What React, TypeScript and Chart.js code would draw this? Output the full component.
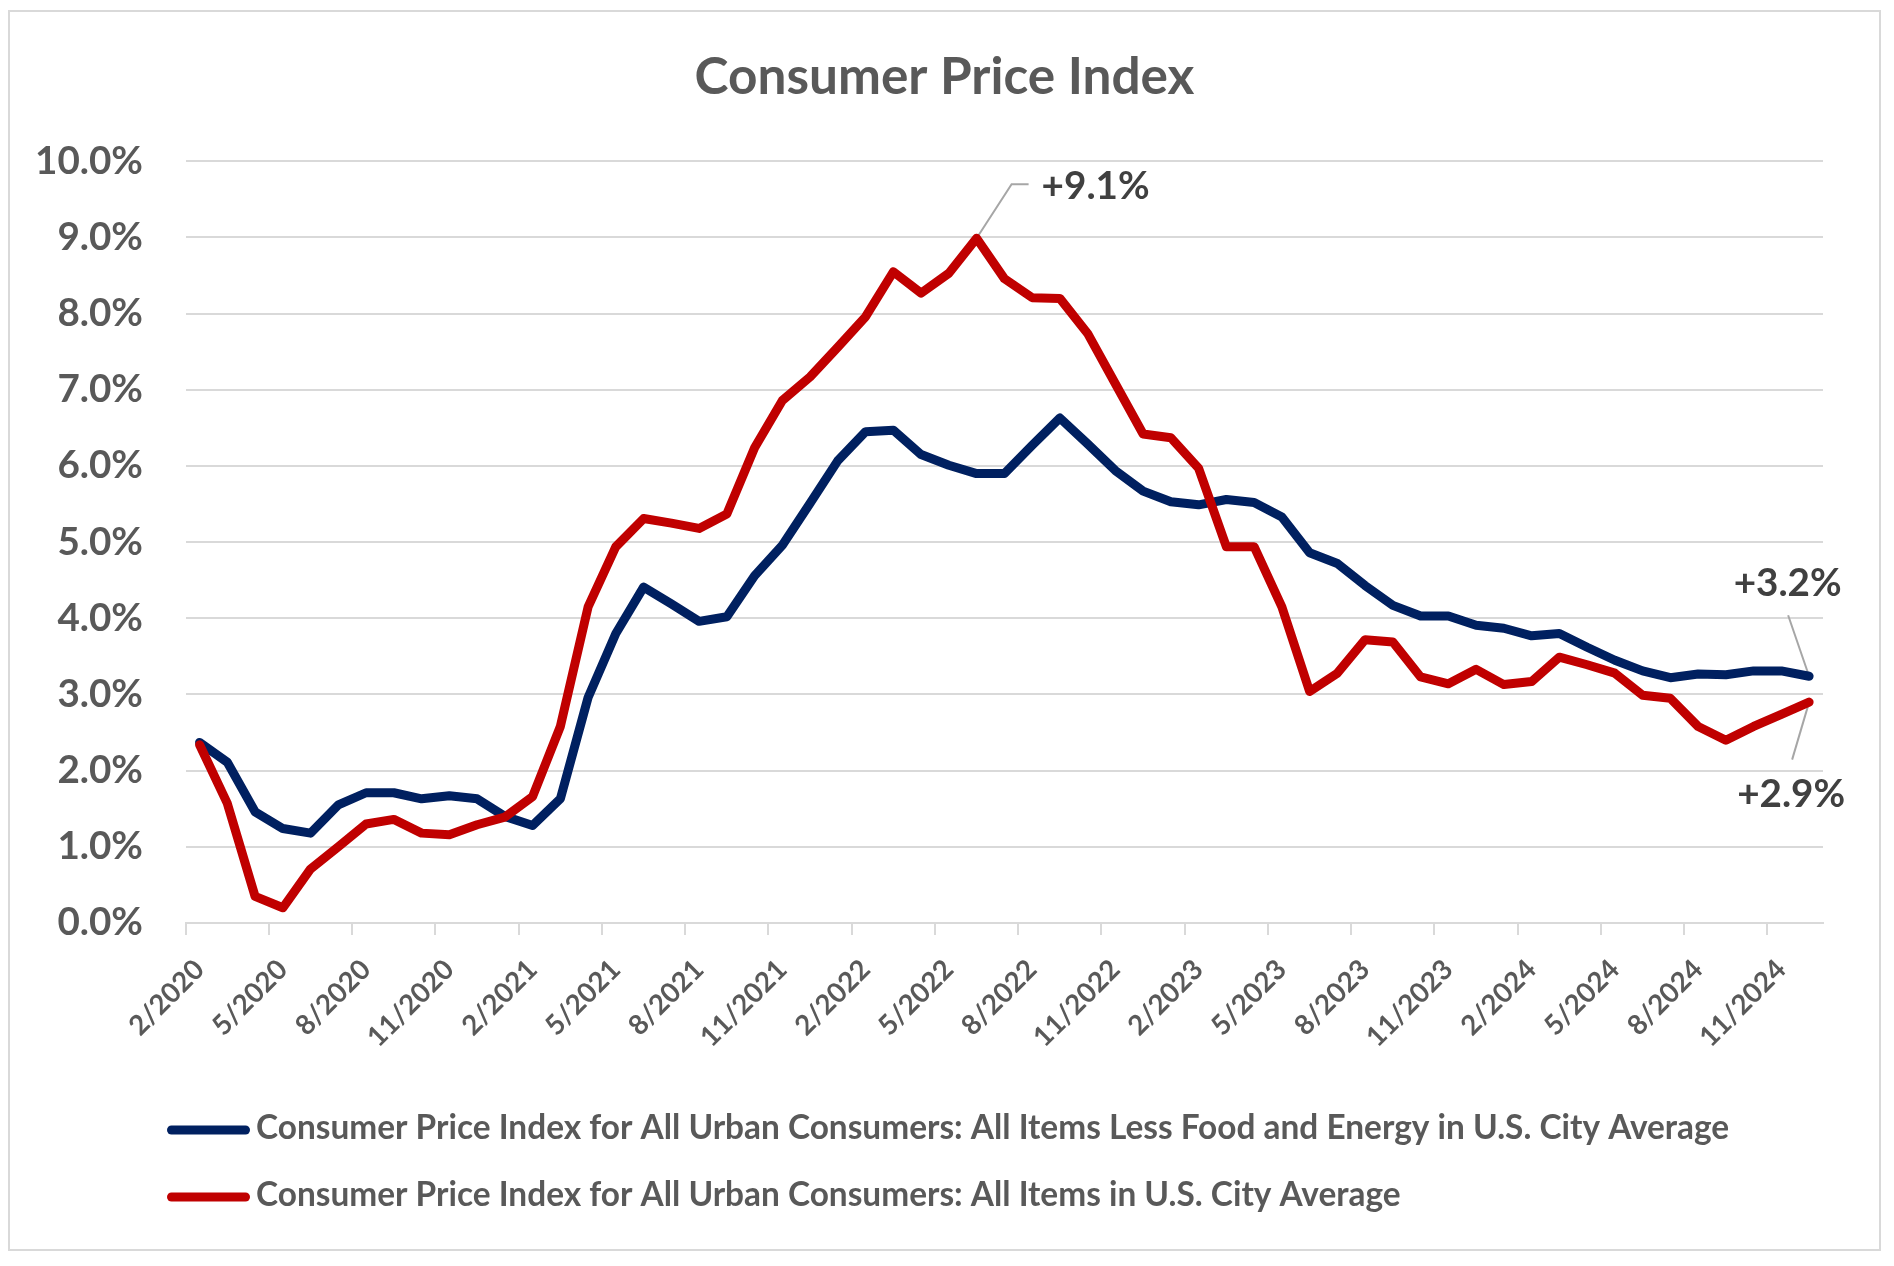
import React, { useEffect, useRef } from 'react';
import { Chart, registerables } from 'chart.js';

Chart.register(...registerables);

const TITLE = 'Consumer Price Index';

const MONTHS = [
  '2/2020', '3/2020', '4/2020', '5/2020', '6/2020', '7/2020', '8/2020', '9/2020', '10/2020', '11/2020', '12/2020',
  '1/2021', '2/2021', '3/2021', '4/2021', '5/2021', '6/2021', '7/2021', '8/2021', '9/2021', '10/2021', '11/2021', '12/2021',
  '1/2022', '2/2022', '3/2022', '4/2022', '5/2022', '6/2022', '7/2022', '8/2022', '9/2022', '10/2022', '11/2022', '12/2022',
  '1/2023', '2/2023', '3/2023', '4/2023', '5/2023', '6/2023', '7/2023', '8/2023', '9/2023', '10/2023', '11/2023', '12/2023',
  '1/2024', '2/2024', '3/2024', '4/2024', '5/2024', '6/2024', '7/2024', '8/2024', '9/2024', '10/2024', '11/2024', '12/2024',
];

// Core CPI (less food and energy), YoY %
const CORE = [
  2.37, 2.11, 1.46, 1.24, 1.18, 1.55, 1.71, 1.71, 1.63, 1.67, 1.63,
  1.40, 1.28, 1.63, 2.96, 3.80, 4.41, 4.19, 3.96, 4.02, 4.56, 4.96, 5.51,
  6.07, 6.45, 6.47, 6.15, 6.01, 5.90, 5.90, 6.27, 6.63, 6.29, 5.94, 5.67,
  5.53, 5.49, 5.56, 5.52, 5.33, 4.86, 4.72, 4.43, 4.17, 4.03, 4.03, 3.91,
  3.87, 3.77, 3.80, 3.62, 3.45, 3.31, 3.22, 3.27, 3.26, 3.31, 3.31, 3.24,
];

// Headline CPI (all items), YoY %
const HEADLINE = [
  2.34, 1.57, 0.35, 0.20, 0.71, 1.00, 1.30, 1.36, 1.18, 1.16, 1.29,
  1.39, 1.66, 2.58, 4.15, 4.94, 5.31, 5.25, 5.18, 5.37, 6.24, 6.86, 7.17,
  7.56, 7.96, 8.55, 8.27, 8.53, 8.99, 8.46, 8.21, 8.20, 7.74, 7.08, 6.42,
  6.37, 5.97, 4.94, 4.94, 4.15, 3.04, 3.28, 3.72, 3.69, 3.23, 3.14, 3.33,
  3.13, 3.17, 3.49, 3.39, 3.28, 2.99, 2.95, 2.58, 2.40, 2.58, 2.74, 2.90,
];

const SERIES_NAMES = [
  'Consumer Price Index for All Urban Consumers: All Items Less Food and Energy in U.S. City Average',
  'Consumer Price Index for All Urban Consumers: All Items in U.S. City Average',
];

const SERIES_COLORS = ['#002060', '#C00000'];

const Y_MIN = 0;
const Y_MAX = 10;
const Y_STEP = 1;
const X_LABEL_EVERY = 3;

const ANNOTATIONS = [
  { series: 1, index: 28, text: '+9.1%' },
  { series: 0, index: 58, text: '+3.2%' },
  { series: 1, index: 58, text: '+2.9%' },
];

// placement of the annotation texts/leaders relative to their point (style only)
const ANNOTATION_LAYOUT = [
  { leader: [[35, -54], [52, -54]], tx: 65, ty: -39, align: 'left' },
  { leader: [[-21, -61]], tx: -21.5, ty: -80, align: 'center' },
  { leader: [[-17, 57.5]], tx: -18, ty: 104.5, align: 'center' },
];

const FONT = 'Lato';
const TEXT = '#595959';
const GRID = '#d9d9d9';
const LINE_WIDTH = 9;

function fitSize(ctx: CanvasRenderingContext2D, text: string, target: number) {
  ctx.font = `bold 100px ${FONT}`;
  return (100 * target) / ctx.measureText(text).width;
}

export default function App() {
  const ref = useRef<HTMLCanvasElement>(null);

  useEffect(() => {
    const canvas = ref.current!;
    const m = document.createElement('canvas').getContext('2d')!;
    const titleSize = fitSize(m, TITLE, 500);
    const yTickSize = fitSize(m, '10.0%', 108);
    const xTickSize = fitSize(m, '2/2020', 93);
    const legendSize = fitSize(m, SERIES_NAMES[0], 1474);
    const annoSize = fitSize(m, '+9.1%', 108);

    const H = 1237;
    const W = 1869;
    const area = { left: 175.7, right: 1813, top: 149.3, bottom: 911 };
    const xAxisHeight = 150;
    const xPad = 30 - 0.4243 * xTickSize;

    const overlay = {
      id: 'overlay',
      beforeDatasetsDraw(chart: any) {
        const ctx = chart.ctx;
        ctx.save();
        ctx.strokeStyle = '#a6a6a6';
        ctx.lineWidth = 2;
        ANNOTATIONS.forEach((a, i) => {
          const pt = chart.getDatasetMeta(a.series).data[a.index];
          const L = ANNOTATION_LAYOUT[i];
          ctx.beginPath();
          ctx.moveTo(pt.x, pt.y);
          L.leader.forEach(([dx, dy]) => ctx.lineTo(pt.x + dx, pt.y + dy));
          ctx.stroke();
        });
        ctx.restore();
      },
      afterDraw(chart: any) {
        const ctx = chart.ctx;
        ctx.save();
        // title
        ctx.fillStyle = TEXT;
        ctx.font = `bold ${titleSize}px ${FONT}`;
        ctx.textAlign = 'center';
        ctx.textBaseline = 'alphabetic';
        ctx.fillText(TITLE, chart.width / 2, 82);
        // annotations
        ctx.fillStyle = '#404040';
        ctx.font = `bold ${annoSize}px ${FONT}`;
        ANNOTATIONS.forEach((a, i) => {
          const pt = chart.getDatasetMeta(a.series).data[a.index];
          const L = ANNOTATION_LAYOUT[i];
          ctx.textAlign = L.align;
          ctx.fillText(a.text, pt.x + L.tx, pt.y + L.ty);
        });
        // legend (one row per series)
        ctx.font = `bold ${legendSize}px ${FONT}`;
        ctx.textAlign = 'left';
        chart.data.datasets.forEach((ds: any, i: number) => {
          const cy = 1118 + i * 67;
          ctx.strokeStyle = ds.borderColor;
          ctx.lineWidth = LINE_WIDTH;
          ctx.lineCap = 'round';
          ctx.beginPath();
          ctx.moveTo(161.5, cy);
          ctx.lineTo(235.5, cy);
          ctx.stroke();
          ctx.fillStyle = TEXT;
          ctx.fillText(ds.label, 246, 1127 + i * 67);
        });
        ctx.restore();
      },
    };

    const tickColor = (c: any) => (c.index % X_LABEL_EVERY === 0 ? GRID : 'rgba(0,0,0,0)');

    const chart = new Chart(canvas, {
      type: 'line',
      data: {
        labels: MONTHS,
        datasets: [
          {
            label: SERIES_NAMES[0],
            data: CORE,
            borderColor: SERIES_COLORS[0],
            backgroundColor: SERIES_COLORS[0],
            borderWidth: LINE_WIDTH,
            pointRadius: 0,
            tension: 0,
            order: 1,
          },
          {
            label: SERIES_NAMES[1],
            data: HEADLINE,
            borderColor: SERIES_COLORS[1],
            backgroundColor: SERIES_COLORS[1],
            borderWidth: LINE_WIDTH,
            pointRadius: 0,
            tension: 0,
            order: 0,
          },
        ],
      },
      options: {
        animation: false,
        responsive: true,
        maintainAspectRatio: false,
        devicePixelRatio: 1,
        elements: {
          line: { borderJoinStyle: 'round', borderCapStyle: 'round' },
        },
        layout: {
          padding: {
            left: 0,
            right: W - area.right,
            top: area.top,
            bottom: H - area.bottom - xAxisHeight,
          },
        },
        plugins: {
          tooltip: { enabled: false },
          title: { display: false },
          legend: { display: false },
        },
        scales: {
          x: {
            type: 'category',
            offset: true,
            grid: {
              offset: true,
              drawOnChartArea: false,
              drawTicks: true,
              tickLength: 12,
              lineWidth: 2,
              color: tickColor,
              tickColor: tickColor,
            },
            border: { display: true, color: GRID, width: 2 },
            ticks: {
              autoSkip: false,
              minRotation: 45,
              maxRotation: 45,
              padding: xPad,
              color: TEXT,
              font: { family: FONT, size: xTickSize, weight: 'bold' },
              callback: (_v: any, i: number) => (i % X_LABEL_EVERY === 0 ? MONTHS[i] : ''),
            },
            afterFit: (s: any) => {
              s.height = xAxisHeight;
            },
          },
          y: {
            min: Y_MIN,
            max: Y_MAX,
            grid: { color: GRID, lineWidth: 2, drawTicks: false },
            border: { display: false },
            ticks: {
              stepSize: Y_STEP,
              padding: area.left - 133,
              color: TEXT,
              font: { family: FONT, size: yTickSize, weight: 'bold' },
              callback: (v: any) => Number(v).toFixed(1) + '%',
            },
            afterFit: (s: any) => {
              s.width = area.left;
            },
          },
        },
      },
      plugins: [overlay],
    } as any);

    return () => chart.destroy();
  }, []);

  return (
    <div
      style={{
        width: 1869,
        height: 1237,
        border: '2px solid #d9d9d9',
        marginTop: 2,
        position: 'relative',
        background: '#ffffff',
      }}
    >
      <canvas ref={ref} />
    </div>
  );
}
